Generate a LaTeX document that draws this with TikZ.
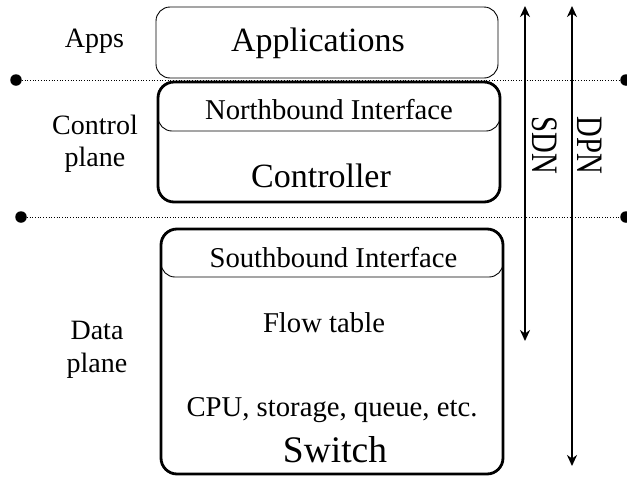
\documentclass[tikz,border=0pt]{standalone}
\usepackage{fontspec}
\setmainfont{Liberation Serif}
\usetikzlibrary{arrows.meta}
\begin{document}
\begin{tikzpicture}[x=1pt,y=-1pt,
  thinbox/.style={draw, line width=0.9pt, rounded corners=14pt},
  thickbox/.style={draw, line width=2.8pt, rounded corners=16pt},
  layerline/.style={dotted, line width=0.7pt},
  enddot/.style={fill, circle, inner sep=0pt, minimum size=11.5pt},
  tip/.style={Stealth[length=11pt,width=10pt,inset=3.5pt]},
  span/.style={line width=1.8pt, {Stealth[length=11pt,width=10pt,inset=3.5pt]}-{Stealth[length=11pt,width=10pt,inset=3.5pt]}},
  lbl/.style={font=\fontsize{28}{32.5}\selectfont, align=center, inner sep=0pt},
  big/.style={font=\fontsize{34}{36}\selectfont, inner sep=0pt},
  body/.style={font=\fontsize{28.7}{30}\selectfont, inner sep=0pt}]
\useasboundingbox (0,0) rectangle (627,477);

% Applications layer
\draw[thinbox] (156,7) rectangle (498,78);
\node[big] (apps) at (318,43) {Applications};

% Controller with its northbound interface
\draw[thinbox] (158,82) rectangle (500,131);
\draw[thickbox] (158,82) rectangle (500,202);
\node[body] (nbi) at (329,110) {Northbound Interface};
\node[big] (ctrl) at (321,176) {Controller};

% Switch with its southbound interface
\draw[thinbox] (161,229) rectangle (503,277);
\draw[thickbox] (161,229) rectangle (503,474);
\node[body] (sbi) at (333.5,258) {Southbound Interface};
\node[body] (flow) at (324,323) {Flow table};
\node[body] (cpu) at (332,410) {CPU, storage, queue, etc.};
\node[big, font=\fontsize{37.5}{40}\selectfont] (sw) at (335,450) {Switch};

% Plane labels
\node[lbl] (lapps) at (94.5,41) {Apps};
\node[lbl] (lctrl) at (95,144) {Control\\plane};
\node[lbl] (ldata) at (97,350) {Data\\plane};

% Plane separators
\node[enddot] (d1l) at (16,80) {};
\node[enddot] (d1r) at (626,80) {};
\node[enddot] (d2l) at (21,217) {};
\node[enddot] (d2r) at (626,217) {};
\draw[layerline] (d1l) -- (d1r);
\draw[layerline] (d2l) -- (d2r);

% Scope arrows
\coordinate (sdnT) at (525,6);
\coordinate (sdnB) at (525,341);
\coordinate (dpnT) at (572,6);
\coordinate (dpnB) at (572,466);
\draw[span] (sdnT) -- (sdnB);
\draw[span] (dpnT) -- (dpnB);
\node[body, rotate=-90] (sdn) at (544.5,145.5) {\scalebox{1}[1.3]{SDN}};
\node[body, rotate=-90] (dpn) at (590,145.5) {\scalebox{1}[1.3]{DPN}};
\end{tikzpicture}
\end{document}
